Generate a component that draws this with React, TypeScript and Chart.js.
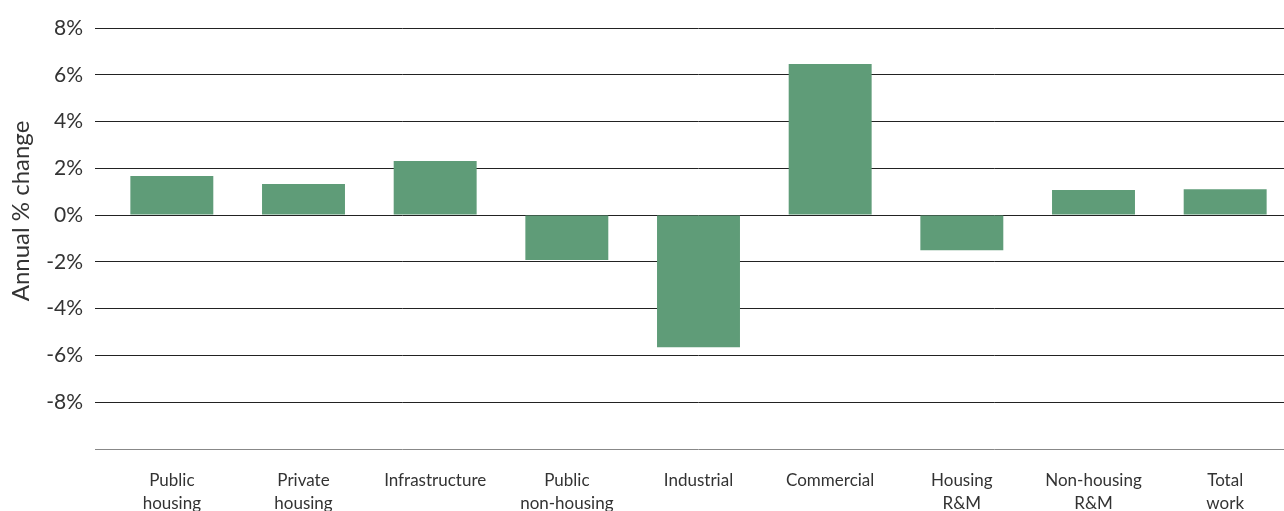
import React, { useEffect, useRef } from "react";
import { Chart, registerables } from "chart.js";

Chart.register(...registerables);

const categories: string[][] = [
  ["Public", "housing"],
  ["Private", "housing"],
  ["Infrastructure"],
  ["Public", "non-housing"],
  ["Industrial"],
  ["Commercial"],
  ["Housing", "R&M"],
  ["Non-housing", "R&M"],
  ["Total", "work"],
];
const annualChange: number[] = [1.67, 1.33, 2.31, -1.92, -5.65, 6.46, -1.5, 1.07, 1.11];
const yMin = -10;
const yMax = 8;
const yStep = 2;
const yTitle = "Annual % change";

const FONT = "Lato, 'Noto Sans', sans-serif";

const yTitlePlugin = {
  id: "yTitlePlugin",
  afterDraw(chart: any) {
    const ctx = chart.ctx;
    ctx.save();
    ctx.translate(21, 211);
    ctx.rotate(-Math.PI / 2);
    ctx.font = `24px ${FONT}`;
    ctx.fillStyle = "#333";
    ctx.textAlign = "center";
    ctx.textBaseline = "middle";
    ctx.fillText(yTitle, 0, 0);
    ctx.restore();
  },
};

export default function App() {
  const ref = useRef<HTMLCanvasElement>(null);
  useEffect(() => {
    document.body.style.overflow = "hidden";
    const chart = new Chart(ref.current!, {
      type: "bar",
      data: {
        labels: categories,
        datasets: [
          {
            data: annualChange,
            backgroundColor: "#5F9C78",
            barPercentage: 0.63,
            categoryPercentage: 1,
          },
        ],
      },
      options: {
        animation: false,
        responsive: false,
        layout: { padding: { top: 28, bottom: 0, left: 0, right: 0 } },
        plugins: { legend: { display: false }, tooltip: { enabled: false } },
        scales: {
          x: {
            grid: { display: false },
            border: { display: false },
            ticks: {
              color: "#333",
              font: { family: FONT, size: 17, lineHeight: 1.35 },
              padding: 12,
              maxRotation: 0,
              autoSkip: false,
            },
            afterFit(scale: any) {
              scale.height = 71;
            },
          },
          y: {
            min: yMin,
            max: yMax,
            border: { display: false },
            grid: {
              color: (c: any) => (c.tick && c.tick.value === yMin ? "#888" : "#222"),
              lineWidth: 1,
              tickLength: 11,
              drawTicks: true,
            },
            ticks: {
              stepSize: yStep,
              color: "#333",
              font: { family: FONT, size: 21 },
              padding: 12,
              callback: (v: any) => (v === yMin ? "" : `${v}%`),
            },
            afterFit(scale: any) {
              scale.width = 106;
            },
          },
        },
      },
      plugins: [yTitlePlugin],
    });
    return () => chart.destroy();
  }, []);
  return (
    <div style={{ position: "absolute", left: 0, top: 0, width: 1291, height: 520 }}>
      <canvas ref={ref} width={1291} height={520} style={{ width: 1291, height: 520 }} />
    </div>
  );
}
